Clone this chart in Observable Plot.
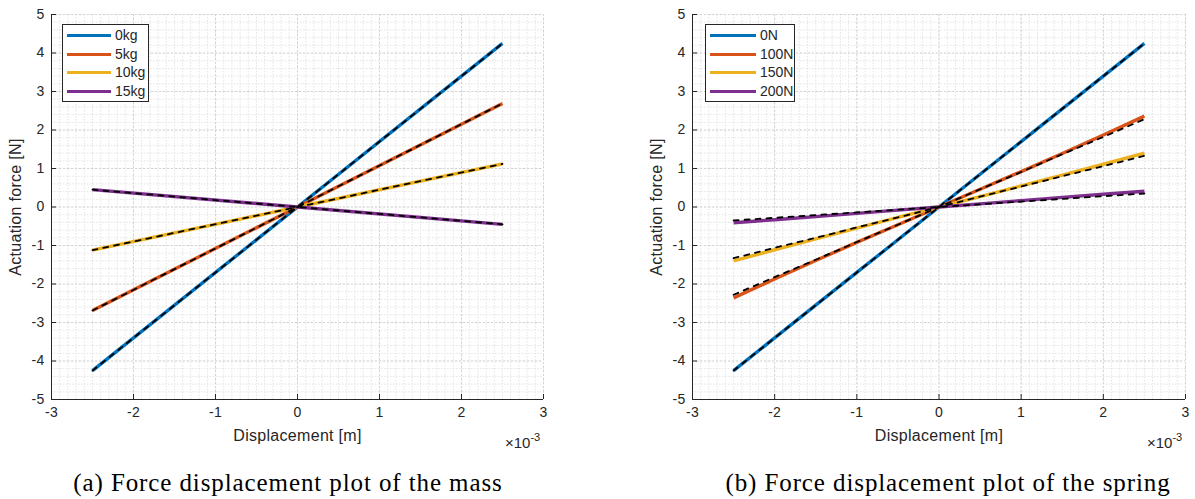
<!DOCTYPE html>
<html>
<head>
<meta charset="utf-8">
<script src="https://cdn.jsdelivr.net/npm/d3@7"></script>
<script src="https://cdn.jsdelivr.net/npm/@observablehq/plot@0.6"></script>
<style>
  html, body { margin: 0; padding: 0; background: #fff; }
  #root { position: relative; width: 1195px; height: 499px; overflow: hidden; }
  .panel { position: absolute; top: 0; }
  .legend { position: absolute; background: #fff; border: 1px solid #262626; box-sizing: border-box;
            font-family: "Liberation Sans", Arial, sans-serif; font-size: 14px; color: #262626; }
  .legend .row { position: absolute; height: 16px; line-height: 16px; white-space: nowrap; }
  .legend .sw { position: absolute; height: 3px; top: 7px; }
  .legend .lab { position: absolute; top: 0; }
  .exp { position: absolute; font-family: "Liberation Sans", Arial, sans-serif; font-size: 15px; color: #262626; white-space: nowrap; }
  .exp sup { font-size: 11px; position: relative; top: -1px; }
  .caption { position: absolute; font-family: "Liberation Serif", "Times New Roman", serif; font-size: 25px; letter-spacing: 0.9px; color: #000; white-space: nowrap; transform: translateX(-50%); }
  svg text { letter-spacing: 0.3px; }
</style>
</head>
<body>
<div id="root"></div>
<script>
// ---------- data ----------
// x positions (m)
const massX = [-0.0025, 0, 0.0025];
const massLabels = ["0kg", "5kg", "10kg", "15kg"];
// simulated (coloured) and model (dashed) actuation force [N]
const mass0 = [-4.25, 0, 4.25];
const mass5 = [-2.69, 0, 2.69];
const mass10 = [-1.12, 0, 1.12];
const mass15 = [0.45, 0, -0.45];
const mass0Model = [-4.25, 0, 4.25];
const mass5Model = [-2.69, 0, 2.69];
const mass10Model = [-1.12, 0, 1.12];
const mass15Model = [0.45, 0, -0.45];

const springX = [-0.0025, -0.002, -0.0015, -0.001, -0.0005, 0, 0.0005, 0.001, 0.0015, 0.002, 0.0025];
const springLabels = ["0N", "100N", "150N", "200N"];
const spring0 = [-4.25, -3.40, -2.55, -1.70, -0.85, 0, 0.85, 1.70, 2.55, 3.40, 4.25];
const spring100 = [-2.36, -1.87, -1.39, -0.92, -0.46, 0, 0.46, 0.92, 1.39, 1.87, 2.36];
const spring150 = [-1.40, -1.11, -0.83, -0.55, -0.27, 0, 0.27, 0.55, 0.83, 1.11, 1.40];
const spring200 = [-0.41, -0.33, -0.25, -0.165, -0.08, 0, 0.08, 0.165, 0.25, 0.33, 0.41];
const spring0Model = [-4.25, -3.40, -2.55, -1.70, -0.85, 0, 0.85, 1.70, 2.55, 3.40, 4.25];
const spring100Model = [-2.28, -1.82, -1.37, -0.91, -0.46, 0, 0.46, 0.91, 1.37, 1.82, 2.28];
const spring150Model = [-1.33, -1.06, -0.80, -0.53, -0.27, 0, 0.27, 0.53, 0.80, 1.06, 1.33];
const spring200Model = [-0.35, -0.28, -0.21, -0.14, -0.07, 0, 0.07, 0.14, 0.21, 0.28, 0.35];

const xTicks = [-3, -2, -1, 0, 1, 2, 3];           // ×10^-3 m
const yTicks = [-5, -4, -3, -2, -1, 0, 1, 2, 3, 4, 5];
const colors = ["#0072BD", "#D95319", "#EDB120", "#7E2F8E"];
const captions = ["(a) Force displacement plot of the mass", "(b) Force displacement plot of the spring"];

// ---------- helpers ----------
function rows(xs, ys, series) { return xs.map((x, i) => ({x, y: ys[i], series})); }

const xMinor = d3.range(-30, 31).map(d => d / 10000);
const yMinor = d3.range(-25, 26).map(d => d / 5);

function panel(simRows, modelRows, labels, width, marginRight) {
  const axisColor = "#262626";
  return Plot.plot({
    width, height: 455,
    marginLeft: 51, marginRight, marginTop: 14, marginBottom: 56,
    style: {fontFamily: "Liberation Sans, Arial, sans-serif", fontSize: "14px", color: axisColor, background: "#fff"},
    x: {domain: [-0.003, 0.003]},
    y: {domain: [-5, 5]},
    color: {domain: labels, range: colors},
    marks: [
      Plot.gridX(xMinor, {stroke: "#e4e4e4", strokeOpacity: 1, strokeDasharray: "1.5,1.5"}),
      Plot.gridY(yMinor, {stroke: "#e4e4e4", strokeOpacity: 1, strokeDasharray: "1.5,1.5"}),
      Plot.gridX(xTicks.map(d => d / 1000), {stroke: "#d4d4d4", strokeOpacity: 1, strokeDasharray: "2,2"}),
      Plot.gridY(yTicks, {stroke: "#d4d4d4", strokeOpacity: 1, strokeDasharray: "2,2"}),
      Plot.line(simRows, {x: "x", y: "y", z: "series", stroke: "series", strokeWidth: 3.4, strokeLinecap: "butt"}),
      Plot.line(modelRows, {x: "x", y: "y", z: "series", stroke: "#000", strokeWidth: 1.8, strokeDasharray: "5,6"}),
      Plot.ruleY([-5], {stroke: axisColor, strokeWidth: 1}),
      Plot.ruleX([-0.003], {stroke: axisColor, strokeWidth: 1}),
      Plot.axisX(xTicks.map(d => d / 1000), {tickSize: 0, tickPadding: 8, fontSize: 14, tickFormat: d => String(Math.round(d * 1000)),
        label: null, stroke: axisColor}),
      Plot.axisX(xTicks.map(d => d / 1000), {tickSize: -5, text: null, label: null, stroke: axisColor}),
      Plot.axisX({tickSize: 0, ticks: [], label: "Displacement [m]", labelAnchor: "center", labelArrow: "none", labelOffset: 41, fontSize: 16}),
      Plot.axisY(yTicks, {tickSize: 0, tickPadding: 7, fontSize: 14, tickFormat: d => String(d), label: null, stroke: axisColor}),
      Plot.axisY(yTicks, {tickSize: -5, text: null, label: null, stroke: axisColor}),
      Plot.axisY({tickSize: 0, ticks: [], label: "Actuation force [N]", labelAnchor: "center", labelArrow: "none", labelOffset: 42, fontSize: 16})
    ]
  });
}

const root = document.getElementById("root");

function addPanel(left, svg, labels, legendBox, plotRight, captionCenter, caption) {
  const wrap = document.createElement("div");
  wrap.className = "panel";
  wrap.style.left = left + "px";
  wrap.appendChild(svg);
  root.appendChild(wrap);

  const lg = document.createElement("div");
  lg.className = "legend";
  Object.assign(lg.style, {left: legendBox.left + "px", top: legendBox.top + "px", width: legendBox.width + "px", height: legendBox.height + "px"});
  labels.forEach((lab, i) => {
    const r = document.createElement("div");
    r.className = "row";
    r.style.top = (2 + i * 18.7) + "px";
    r.style.left = "0px";
    r.innerHTML = `<div class="sw" style="left:4px;width:${legendBox.sw}px;background:${colors[i]}"></div>` +
                  `<div class="lab" style="left:${legendBox.sw + 8}px">${lab}</div>`;
    lg.appendChild(r);
  });
  root.appendChild(lg);

  const ex = document.createElement("div");
  ex.className = "exp";
  ex.style.left = (plotRight - 38) + "px";
  ex.style.top = "432px";
  ex.innerHTML = "×10<sup>-3</sup>";
  root.appendChild(ex);

  const cap = document.createElement("div");
  cap.className = "caption";
  cap.style.left = captionCenter + "px";
  cap.style.top = "469px";
  cap.textContent = caption;
  root.appendChild(cap);
}

const massSim = [...rows(massX, mass0, "0kg"), ...rows(massX, mass5, "5kg"), ...rows(massX, mass10, "10kg"), ...rows(massX, mass15, "15kg")];
const massModel = [...rows(massX, mass0Model, "0kg"), ...rows(massX, mass5Model, "5kg"), ...rows(massX, mass10Model, "10kg"), ...rows(massX, mass15Model, "15kg")];
const springSim = [...rows(springX, spring0, "0N"), ...rows(springX, spring100, "100N"), ...rows(springX, spring150, "150N"), ...rows(springX, spring200, "200N")];
const springModel = [...rows(springX, spring0Model, "0N"), ...rows(springX, spring100Model, "100N"), ...rows(springX, spring150Model, "150N"), ...rows(springX, spring200Model, "200N")];

addPanel(0, panel(massSim, massModel, massLabels, 641, 98), massLabels,
  {left: 62, top: 24, width: 87, height: 78, sw: 44}, 543, 288, captions[0]);
addPanel(641, panel(springSim, springModel, springLabels, 554, 10), springLabels,
  {left: 705, top: 24, width: 90, height: 78, sw: 46}, 1185, 948, captions[1]);
</script>
</body>
</html>
